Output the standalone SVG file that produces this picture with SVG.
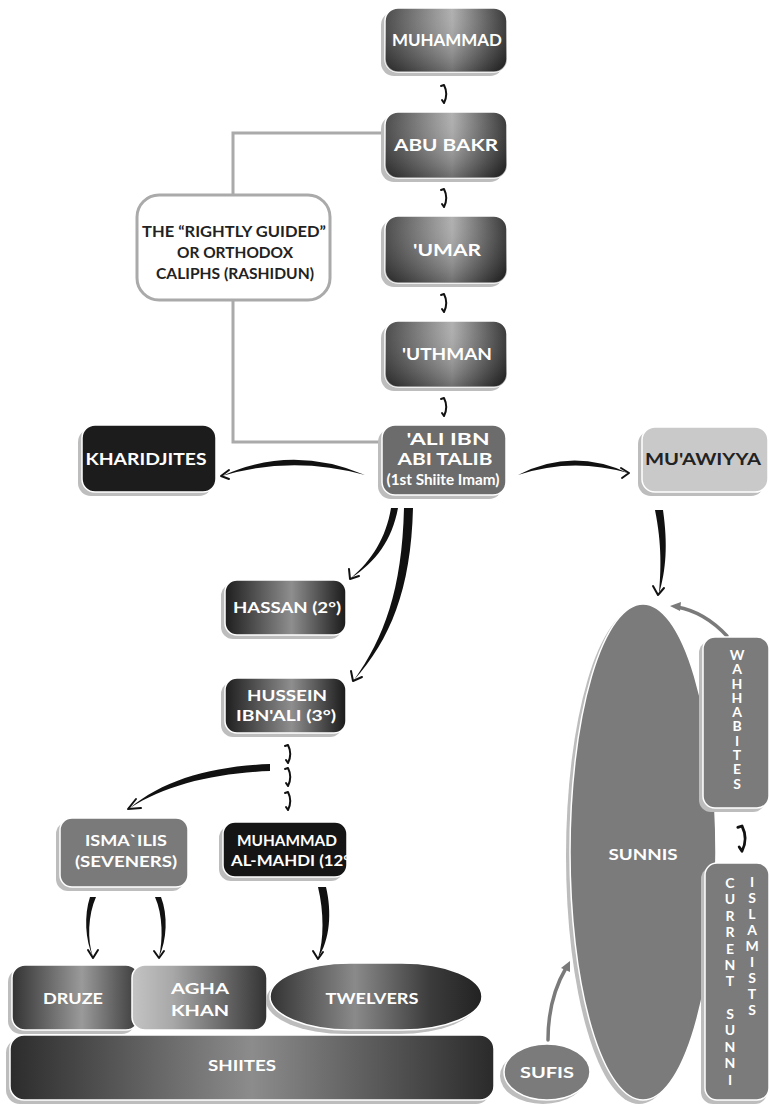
<svg xmlns="http://www.w3.org/2000/svg" xmlns:xlink="http://www.w3.org/1999/xlink" width="770" height="1106" viewBox="0 0 770 1106">
<style>
.t{font-family:Lato,"Open Sans","Liberation Sans",sans-serif;font-weight:700;text-anchor:middle;fill:#fff}
.d{fill:#222}
.sh{fill:#bdbdbd}
.bx{stroke:#fff;stroke-width:1.5}
.ink{fill:#111}
.tick{fill:none;stroke:#111;stroke-width:2;stroke-linecap:round;stroke-linejoin:round}
.gl{fill:none;stroke:#aaa;stroke-width:3}
.ga{fill:none;stroke:#7a7a7a;stroke-width:3.5;stroke-linecap:round}
.gray{fill:#7b7b7b}
</style>
<defs>
<linearGradient id="metal" x1="0" x2="1" y1="0" y2="0">
<stop offset="0" stop-color="#3a3a3a"/><stop offset="0.55" stop-color="#aaaaaa"/><stop offset="1" stop-color="#242424"/>
</linearGradient>
<linearGradient id="metal2" x1="0" x2="1" y1="0" y2="0">
<stop offset="0" stop-color="#1e1e1e"/><stop offset="0.55" stop-color="#8e8e8e"/><stop offset="1" stop-color="#1a1a1a"/>
</linearGradient>
<linearGradient id="druzeG" x1="0" x2="1"><stop offset="0" stop-color="#333"/><stop offset="0.55" stop-color="#9a9a9a"/><stop offset="1" stop-color="#3a3a3a"/></linearGradient>
<linearGradient id="aghaG" x1="0" x2="1"><stop offset="0" stop-color="#c4c4c4"/><stop offset="0.3" stop-color="#a8a8a8"/><stop offset="1" stop-color="#333"/></linearGradient>
<linearGradient id="twelG" x1="0" x2="1"><stop offset="0" stop-color="#333"/><stop offset="0.4" stop-color="#8a8a8a"/><stop offset="0.75" stop-color="#3c3c3c"/><stop offset="1" stop-color="#222"/></linearGradient>
<linearGradient id="shiG" x1="0" x2="1"><stop offset="0" stop-color="#2c2c2c"/><stop offset="0.5" stop-color="#8c8c8c"/><stop offset="1" stop-color="#2a2a2a"/></linearGradient>
<linearGradient id="shade" x1="0" x2="0" y1="0" y2="1"><stop offset="0" stop-color="#fff" stop-opacity="0.08"/><stop offset="1" stop-color="#000" stop-opacity="0.35"/></linearGradient>
<path id="hook" class="tick" d="M-3,1 L0,0 C3,6 3,12 0,18 L-2,15"/>
<clipPath id="mahdiClip"><rect x="223" y="822" width="124" height="55" rx="12"/></clipPath>
</defs>
<rect width="770" height="1106" fill="#fff"/>

<g id="connectors">
<path class="gl" d="M385,133 H233 V195 M233,300 V442 H382"/>
<use xlink:href="#hook" x="444" y="85"/>
<use xlink:href="#hook" x="444" y="189"/>
<use xlink:href="#hook" x="444" y="294"/>
<use xlink:href="#hook" x="444" y="398"/>
<path class="ink" d="M365,475 Q292,444 222,476 Q292,455 365,475 Z"/>
<path class="tick" d="M229,470 L221,476 L229,479"/>
<path class="ink" d="M518,475 Q572,447 628,473 Q572,457 518,475 Z"/>
<path class="tick" d="M621,468 L629,473 L622,478"/>
<path class="ink" d="M391,508 L398,508 C392,540 376,562 351,578 C372,560 386,538 391,508 Z"/>
<path class="tick" d="M349,569 L350,579 L359,576"/>
<path class="ink" d="M404,508 L413,508 C411,590 390,640 354,680 C384,638 402,590 404,508 Z"/>
<path class="tick" d="M351,671 L353,681 L362,677"/>
<path class="ink" d="M655,510 L663,510 C668,545 666,570 659,594 C661,570 662,545 655,510 Z"/>
<path class="tick" d="M653,586 L658,595 L664,588"/>
<use xlink:href="#hook" x="288" y="745"/>
<use xlink:href="#hook" x="288" y="768"/>
<use xlink:href="#hook" x="288" y="792"/>
<path class="ink" d="M270,764 L270,771 C215,773 165,785 130,808 C163,780 212,766 270,764 Z"/>
<path class="tick" d="M136,799 L128,809 L141,808"/>
<path class="ink" d="M90,897 L96,897 C88,915 87,940 93,957 C85,940 84,915 90,897 Z"/>
<path class="tick" d="M88,950 L93,958 L98,950"/>
<path class="ink" d="M155,897 L161,897 C168,915 167,940 159,957 C163,940 163,915 155,897 Z"/>
<path class="tick" d="M154,951 L159,958 L164,951"/>
<path class="ink" d="M318,887 L326,887 C332,912 330,940 318,958 C324,940 324,912 318,887 Z"/>
<path class="tick" d="M313,951 L318,959 L323,952"/>
<path class="ga" d="M727,636 C712,620 694,610 677,607"/>
<path fill="#7a7a7a" d="M670,606 L681,602 L680,611 Z"/>
<path class="ga" d="M548,1040 C548,1010 556,985 566,968"/>
<path fill="#7a7a7a" d="M570,961 L561,968 L570,972 Z"/>
<use xlink:href="#hook" transform="translate(742,826) scale(1.4)"/>
</g>

<g id="rashidun">
<rect x="137" y="195" width="193" height="105" rx="22" fill="#fff" stroke="#aaa" stroke-width="3"/>
<text class="t d" x="234" y="237" font-size="15" textLength="184" lengthAdjust="spacingAndGlyphs">THE “RIGHTLY GUIDED”</text>
<text class="t d" x="235" y="258" font-size="15" textLength="116" lengthAdjust="spacingAndGlyphs">OR ORTHODOX</text>
<text class="t d" x="235" y="279" font-size="15" textLength="158" lengthAdjust="spacingAndGlyphs">CALIPHS (RASHIDUN)</text>
</g>

<g id="muhammad">
<rect class="sh" x="381" y="12" width="122" height="64" rx="13"/>
<rect class="bx" x="385" y="8" width="122" height="64" rx="13" fill="url(#metal)"/>
<rect x="385" y="8" width="122" height="64" rx="13" fill="url(#shade)"/>
<text class="t" x="447" y="46" font-size="17" textLength="110" lengthAdjust="spacingAndGlyphs">MUHAMMAD</text>
</g>
<g id="abubakr">
<rect class="sh" x="381" y="116" width="122" height="66" rx="13"/>
<rect class="bx" x="385" y="112" width="122" height="66" rx="13" fill="url(#metal)"/>
<rect x="385" y="112" width="122" height="66" rx="13" fill="url(#shade)"/>
<text class="t" x="446" y="151" font-size="17" textLength="104" lengthAdjust="spacingAndGlyphs">ABU BAKR</text>
</g>
<g id="umar">
<rect class="sh" x="381" y="220" width="122" height="67" rx="13"/>
<rect class="bx" x="385" y="216" width="122" height="67" rx="13" fill="url(#metal)"/>
<rect x="385" y="216" width="122" height="67" rx="13" fill="url(#shade)"/>
<text class="t" x="447" y="256" font-size="17" textLength="68" lengthAdjust="spacingAndGlyphs">'UMAR</text>
</g>
<g id="uthman">
<rect class="sh" x="381" y="325" width="122" height="66" rx="13"/>
<rect class="bx" x="385" y="321" width="122" height="66" rx="13" fill="url(#metal)"/>
<rect x="385" y="321" width="122" height="66" rx="13" fill="url(#shade)"/>
<text class="t" x="447" y="360" font-size="17" textLength="90" lengthAdjust="spacingAndGlyphs">'UTHMAN</text>
</g>
<g id="ali">
<rect class="sh" x="378" y="429" width="124" height="70" rx="13"/>
<rect class="bx" x="382" y="425" width="124" height="70" rx="13" fill="#6c6c6c"/>
<text class="t" x="448" y="445" font-size="17" textLength="83" lengthAdjust="spacingAndGlyphs">'ALI IBN</text>
<text class="t" x="445" y="465" font-size="17" textLength="95" lengthAdjust="spacingAndGlyphs">ABI TALIB</text>
<text class="t" x="443" y="485" font-size="15" textLength="113" lengthAdjust="spacingAndGlyphs">(1st Shiite Imam)</text>
</g>
<g id="kharidjites">
<rect class="sh" x="78" y="429" width="134" height="67" rx="13"/>
<rect class="bx" x="82" y="425" width="134" height="67" rx="13" fill="#1c1c1c"/>
<text class="t" x="146" y="465" font-size="17" textLength="121" lengthAdjust="spacingAndGlyphs">KHARIDJITES</text>
</g>
<g id="muawiyya">
<rect class="sh" x="638" y="431" width="126" height="65" rx="13"/>
<rect class="bx" x="642" y="427" width="126" height="65" rx="13" fill="#c9c9c9"/>
<text class="t d" x="703" y="465" font-size="17" textLength="116" lengthAdjust="spacingAndGlyphs">MU'AWIYYA</text>
</g>
<g id="hassan">
<rect class="sh" x="221" y="584" width="121" height="55" rx="12"/>
<rect class="bx" x="225" y="580" width="121" height="55" rx="12" fill="url(#metal2)"/>
<text class="t" x="287" y="613" font-size="15" textLength="108" lengthAdjust="spacingAndGlyphs">HASSAN (2°)</text>
</g>
<g id="hussein">
<rect class="sh" x="221" y="682" width="121" height="55" rx="12"/>
<rect class="bx" x="225" y="678" width="121" height="55" rx="12" fill="url(#metal2)"/>
<text class="t" x="287" y="701" font-size="15" textLength="80" lengthAdjust="spacingAndGlyphs">HUSSEIN</text>
<text class="t" x="286" y="721" font-size="15" textLength="100" lengthAdjust="spacingAndGlyphs">IBN'ALI (3°)</text>
</g>
<g id="ismailis">
<rect class="sh" x="56" y="822" width="128" height="69" rx="12"/>
<rect class="bx" x="60" y="818" width="128" height="69" rx="12" fill="#7a7a7a"/>
<text class="t" x="126" y="846" font-size="15" textLength="82" lengthAdjust="spacingAndGlyphs">ISMA`ILIS</text>
<text class="t" x="126" y="867" font-size="15" textLength="102" lengthAdjust="spacingAndGlyphs">(SEVENERS)</text>
</g>
<g id="mahdi">
<rect class="sh" x="219" y="826" width="124" height="55" rx="12"/>
<rect class="bx" x="223" y="822" width="124" height="55" rx="12" fill="#151515"/>
<text class="t" x="287" y="846" font-size="15" textLength="100" lengthAdjust="spacingAndGlyphs">MUHAMMAD</text>
<text class="t" x="293" y="866" font-size="15" textLength="124" lengthAdjust="spacingAndGlyphs" clip-path="url(#mahdiClip)">AL-MAHDI (12°)</text>
</g>
<g id="druze">
<rect class="sh" x="8" y="969" width="127" height="65" rx="13"/>
<rect class="bx" x="12" y="965" width="127" height="65" rx="13" fill="url(#druzeG)"/>
<text class="t" x="73" y="1004" font-size="16" textLength="60" lengthAdjust="spacingAndGlyphs">DRUZE</text>
</g>
<g id="aghakhan">
<rect class="bx" x="132" y="965" width="135" height="65" rx="13" fill="url(#aghaG)"/>
<text class="t" x="200" y="994" font-size="16" textLength="58" lengthAdjust="spacingAndGlyphs">AGHA</text>
<text class="t" x="200" y="1016" font-size="16" textLength="58" lengthAdjust="spacingAndGlyphs">KHAN</text>
</g>
<g id="twelvers">
<rect class="sh" x="266" y="967" width="212" height="67" rx="80" ry="34"/>
<rect class="bx" x="270" y="963" width="212" height="67" rx="80" ry="34" fill="url(#twelG)"/>
<text class="t" x="372" y="1004" font-size="16" textLength="93" lengthAdjust="spacingAndGlyphs">TWELVERS</text>
</g>
<g id="shiites">
<rect class="sh" x="6" y="1039" width="484" height="65" rx="14"/>
<rect class="bx" x="10" y="1035" width="484" height="65" rx="14" fill="url(#shiG)"/>
<text class="t" x="242" y="1071" font-size="16" textLength="68" lengthAdjust="spacingAndGlyphs">SHIITES</text>
</g>
<g id="sunnis">
<ellipse class="sh" cx="639" cy="856" rx="73" ry="248"/>
<ellipse class="gray bx" cx="643" cy="852" rx="73" ry="248"/>
<text class="t" x="643" y="860" font-size="16" textLength="69" lengthAdjust="spacingAndGlyphs">SUNNIS</text>
</g>
<g id="sufis">
<ellipse class="sh" cx="543" cy="1076" rx="43" ry="28"/>
<ellipse class="gray bx" cx="547" cy="1072" rx="43" ry="28"/>
<text class="t" x="547" y="1078" font-size="16" textLength="54" lengthAdjust="spacingAndGlyphs">SUFIS</text>
</g>
<g id="wahhabites">
<rect class="sh" x="699" y="641" width="66" height="171" rx="12"/>
<rect class="gray bx" x="703" y="637" width="66" height="171" rx="12"/>
<text class="t" font-size="14" x="737 737 737 737 737 737 737 737 737 737" y="660 674 689 703 717 731 746 760 774 789">WAHHABITES</text>
</g>
<g id="currentsunni">
<rect class="sh" x="701" y="867" width="66" height="237" rx="12"/>
<rect class="gray bx" x="705" y="863" width="64" height="237" rx="12"/>
<text class="t" font-size="14" x="730 730 730 730 730 730 730 730 730 730 730 730 730" y="888 904 921 937 954 970 986 1003 1019 1035 1052 1068 1085">CURRENT SUNNI</text>
<text class="t" font-size="14" x="752 752 752 752 752 752 752 752 752" y="887 903 919 935 951 967 983 999 1015">ISLAMISTS</text>
</g>
</svg>
